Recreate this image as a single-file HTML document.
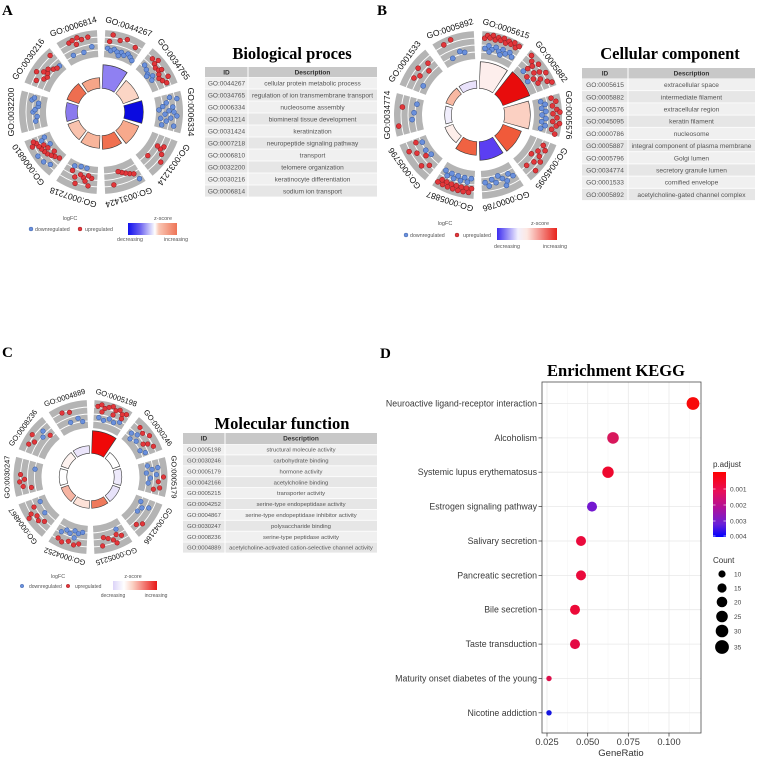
<!DOCTYPE html>
<html><head><meta charset="utf-8"><style>
html,body{margin:0;padding:0;background:#fff;}
svg{display:block;}
text{font-family:"Liberation Sans",Arial,sans-serif;}
.ser{font-family:"Liberation Serif","Times New Roman",serif;font-weight:bold;fill:#000;}
.u circle{fill:#e2363a;stroke:#8e1a1e;stroke-width:.5}
.d circle{fill:#6a90dc;stroke:#35589e;stroke-width:.5}
.gl{fill:#111;text-anchor:middle}
.th{font-size:6.5px;font-weight:bold;fill:#333;text-anchor:middle}
.td{fill:#555;text-anchor:middle}
.lg{fill:#555}
.ax{font-size:8.8px;fill:#3a3a3a;text-anchor:end}
.xt{font-size:9.3px;fill:#3a3a3a;text-anchor:middle}
.ring{fill:none}
</style></head><body>
<svg width="763" height="761" viewBox="0 0 763 761" xmlns="http://www.w3.org/2000/svg">
<defs>
<linearGradient id="gA" x1="0" x2="1" y1="0" y2="0"><stop offset="0" stop-color="#1010ee"/><stop offset="0.25" stop-color="#6c62f0"/><stop offset="0.55" stop-color="#ffffff"/><stop offset="0.63" stop-color="#f9c6b4"/><stop offset="1" stop-color="#ee7456"/></linearGradient>
<linearGradient id="gB" x1="0" x2="1" y1="0" y2="0"><stop offset="0" stop-color="#3c2cf0"/><stop offset="0.35" stop-color="#f2f0fd"/><stop offset="0.5" stop-color="#fde8e2"/><stop offset="1" stop-color="#e8231c"/></linearGradient>
<linearGradient id="gC" x1="0" x2="1" y1="0" y2="0"><stop offset="0" stop-color="#dcd4f8"/><stop offset="0.25" stop-color="#ffffff"/><stop offset="0.45" stop-color="#fbd0c2"/><stop offset="1" stop-color="#e81818"/></linearGradient>
<linearGradient id="gP" x1="0" x2="0" y1="0" y2="1"><stop offset="0" stop-color="#ff0000"/><stop offset="0.3" stop-color="#e8105a"/><stop offset="0.55" stop-color="#b0109a"/><stop offset="0.8" stop-color="#6a20d8"/><stop offset="1" stop-color="#0000ff"/></linearGradient>
</defs>
<rect width="763" height="761" fill="#fff"/>

<!-- Panel letters -->
<text class="ser" x="2" y="15" font-size="15">A</text>
<text class="ser" x="377" y="15" font-size="15">B</text>
<text class="ser" x="2" y="357" font-size="15">C</text>
<text class="ser" x="380" y="358" font-size="15">D</text>

<!-- ================= PANEL A CIRCLE ================= -->
<g transform="translate(101,112)">
<circle class="ring" r="68.5" stroke="#b4b4b4" stroke-width="27" stroke-dasharray="35.87 7.17" transform="rotate(-87)"/>
<circle class="ring" r="62" stroke="#fff" stroke-width=".9"/>
<circle class="ring" r="68.5" stroke="#fff" stroke-width=".9"/>
<circle class="ring" r="75" stroke="#fff" stroke-width=".9"/>
<!-- bars -->
<circle class="ring" r="35.5" stroke="#3a3a3a" stroke-width="24.2" stroke-dasharray="19.79 1000" transform="rotate(-87.97)"/>
<circle class="ring" r="35.5" stroke="#8f80f2" stroke-width="23" stroke-dasharray="18.59 1000" transform="rotate(-87)"/>
<circle class="ring" r="32" stroke="#3a3a3a" stroke-width="17.2" stroke-dasharray="17.96 1000" transform="rotate(-52.07)"/>
<circle class="ring" r="32" stroke="#fbd5c5" stroke-width="16" stroke-dasharray="16.76 1000" transform="rotate(-51)"/>
<circle class="ring" r="33" stroke="#3a3a3a" stroke-width="19.2" stroke-dasharray="18.48 1000" transform="rotate(-16.04)"/>
<circle class="ring" r="33" stroke="#0a0ae0" stroke-width="18" stroke-dasharray="17.28 1000" transform="rotate(-15)"/>
<circle class="ring" r="32" stroke="#3a3a3a" stroke-width="17.2" stroke-dasharray="17.96 1000" transform="rotate(19.93)"/>
<circle class="ring" r="32" stroke="#f7a98c" stroke-width="16" stroke-dasharray="16.76 1000" transform="rotate(21)"/>
<circle class="ring" r="30.5" stroke="#3a3a3a" stroke-width="14.2" stroke-dasharray="17.17 1000" transform="rotate(55.87)"/>
<circle class="ring" r="30.5" stroke="#f07050" stroke-width="13" stroke-dasharray="15.97 1000" transform="rotate(57)"/>
<circle class="ring" r="30" stroke="#3a3a3a" stroke-width="13.2" stroke-dasharray="16.91 1000" transform="rotate(91.85)"/>
<circle class="ring" r="30" stroke="#f8b59b" stroke-width="12" stroke-dasharray="15.71 1000" transform="rotate(93)"/>
<circle class="ring" r="29.5" stroke="#3a3a3a" stroke-width="12.2" stroke-dasharray="16.65 1000" transform="rotate(127.83)"/>
<circle class="ring" r="29.5" stroke="#f9c3ae" stroke-width="11" stroke-dasharray="15.45 1000" transform="rotate(129)"/>
<circle class="ring" r="29.5" stroke="#3a3a3a" stroke-width="12.2" stroke-dasharray="16.65 1000" transform="rotate(163.83)"/>
<circle class="ring" r="29.5" stroke="#8a7aee" stroke-width="11" stroke-dasharray="15.45 1000" transform="rotate(165)"/>
<circle class="ring" r="30" stroke="#3a3a3a" stroke-width="13.2" stroke-dasharray="16.91 1000" transform="rotate(199.85)"/>
<circle class="ring" r="30" stroke="#ee6e50" stroke-width="12" stroke-dasharray="15.71 1000" transform="rotate(201)"/>
<circle class="ring" r="29" stroke="#3a3a3a" stroke-width="11.2" stroke-dasharray="16.38 1000" transform="rotate(235.81)"/>
<circle class="ring" r="29" stroke="#f6a588" stroke-width="10" stroke-dasharray="15.18 1000" transform="rotate(237)"/>
<!-- dots -->
<g class="d">
<circle r="2.4" transform="rotate(6)" cy="-64"/><circle r="2.4" transform="rotate(9)" cy="-62"/><circle r="2.4" transform="rotate(12)" cy="-64"/><circle r="2.4" transform="rotate(15)" cy="-62"/><circle r="2.4" transform="rotate(19)" cy="-63"/><circle r="2.4" transform="rotate(22)" cy="-61"/><circle r="2.4" transform="rotate(25)" cy="-64"/><circle r="2.4" transform="rotate(28)" cy="-62"/><circle r="2.4" transform="rotate(31)" cy="-60"/><circle r="2.4" transform="rotate(17)" cy="-59"/>
<circle r="2.4" transform="rotate(43)" cy="-64"/><circle r="2.4" transform="rotate(47)" cy="-62"/><circle r="2.4" transform="rotate(51)" cy="-60"/><circle r="2.4" transform="rotate(55)" cy="-63"/><circle r="2.4" transform="rotate(58)" cy="-60"/><circle r="2.4" transform="rotate(52)" cy="-58"/>
<circle r="2.4" transform="rotate(78)" cy="-70"/><circle r="2.4" transform="rotate(82)" cy="-66"/><circle r="2.4" transform="rotate(86)" cy="-72"/><circle r="2.4" transform="rotate(89)" cy="-68"/><circle r="2.4" transform="rotate(92)" cy="-64"/><circle r="2.4" transform="rotate(95)" cy="-70"/><circle r="2.4" transform="rotate(98)" cy="-66"/><circle r="2.4" transform="rotate(85)" cy="-62"/><circle r="2.4" transform="rotate(101)" cy="-74"/><circle r="2.4" transform="rotate(80)" cy="-77"/><circle r="2.4" transform="rotate(93)" cy="-76"/><circle r="2.4" transform="rotate(102)" cy="-62"/><circle r="2.4" transform="rotate(88)" cy="-58"/><circle r="2.4" transform="rotate(96)" cy="-60"/><circle r="2.4" transform="rotate(90)" cy="-73"/>
<circle r="2.4" transform="rotate(150)" cy="-77"/>
<circle r="2.4" transform="rotate(200)" cy="-58"/><circle r="2.4" transform="rotate(206)" cy="-60"/><circle r="2.4" transform="rotate(194)" cy="-58"/>
<circle r="2.4" transform="rotate(224)" cy="-73"/><circle r="2.4" transform="rotate(229)" cy="-76"/><circle r="2.4" transform="rotate(235)" cy="-77"/><circle r="2.4" transform="rotate(246)" cy="-62"/><circle r="2.4" transform="rotate(244)" cy="-66"/><circle r="2.4" transform="rotate(238)" cy="-60"/>
<circle r="2.4" transform="rotate(262)" cy="-66"/><circle r="2.4" transform="rotate(266)" cy="-64"/><circle r="2.4" transform="rotate(270)" cy="-68"/><circle r="2.4" transform="rotate(272)" cy="-66"/><circle r="2.4" transform="rotate(275)" cy="-63"/><circle r="2.4" transform="rotate(280)" cy="-70"/><circle r="2.4" transform="rotate(282)" cy="-68"/><circle r="2.4" transform="rotate(278)" cy="-63"/>
<circle r="2.4" transform="rotate(318)" cy="-62"/>
<circle r="2.4" transform="rotate(334)" cy="-63"/><circle r="2.4" transform="rotate(344)" cy="-62"/><circle r="2.4" transform="rotate(352)" cy="-66"/>
</g>
<g class="u">
<circle r="2.4" transform="rotate(9)" cy="-78"/><circle r="2.4" transform="rotate(20)" cy="-77"/><circle r="2.4" transform="rotate(28)" cy="-73"/><circle r="2.4" transform="rotate(7)" cy="-71"/><circle r="2.4" transform="rotate(15)" cy="-74"/>
<circle r="2.4" transform="rotate(44)" cy="-74"/><circle r="2.4" transform="rotate(48)" cy="-72"/><circle r="2.4" transform="rotate(51)" cy="-70"/><circle r="2.4" transform="rotate(54)" cy="-71"/><circle r="2.4" transform="rotate(57)" cy="-69"/><circle r="2.4" transform="rotate(60)" cy="-67"/><circle r="2.4" transform="rotate(63)" cy="-69"/><circle r="2.4" transform="rotate(66)" cy="-72"/><circle r="2.4" transform="rotate(48)" cy="-77"/><circle r="2.4" transform="rotate(62)" cy="-76"/><circle r="2.4" transform="rotate(55)" cy="-74"/>
<circle r="2.4" transform="rotate(119)" cy="-72"/><circle r="2.4" transform="rotate(122)" cy="-70"/><circle r="2.4" transform="rotate(125)" cy="-74"/><circle r="2.4" transform="rotate(121)" cy="-66"/><circle r="2.4" transform="rotate(133)" cy="-64"/><circle r="2.4" transform="rotate(130)" cy="-78"/>
<circle r="2.4" transform="rotate(155)" cy="-68"/><circle r="2.4" transform="rotate(158)" cy="-66"/><circle r="2.4" transform="rotate(161)" cy="-64"/><circle r="2.4" transform="rotate(164)" cy="-62"/><circle r="2.4" transform="rotate(152)" cy="-70"/><circle r="2.4" transform="rotate(170)" cy="-74"/>
<circle r="2.4" transform="rotate(188)" cy="-67"/><circle r="2.4" transform="rotate(191)" cy="-65"/><circle r="2.4" transform="rotate(195)" cy="-68"/><circle r="2.4" transform="rotate(198)" cy="-66"/><circle r="2.4" transform="rotate(202)" cy="-70"/><circle r="2.4" transform="rotate(206)" cy="-65"/><circle r="2.4" transform="rotate(190)" cy="-75"/><circle r="2.4" transform="rotate(200)" cy="-76"/><circle r="2.4" transform="rotate(193)" cy="-71"/>
<circle r="2.4" transform="rotate(222)" cy="-62"/><circle r="2.4" transform="rotate(226)" cy="-64"/><circle r="2.4" transform="rotate(229)" cy="-66"/><circle r="2.4" transform="rotate(232)" cy="-68"/><circle r="2.4" transform="rotate(235)" cy="-69"/><circle r="2.4" transform="rotate(238)" cy="-70"/><circle r="2.4" transform="rotate(241)" cy="-71"/><circle r="2.4" transform="rotate(244)" cy="-72"/><circle r="2.4" transform="rotate(246)" cy="-74"/><circle r="2.4" transform="rotate(230)" cy="-61"/><circle r="2.4" transform="rotate(236)" cy="-64"/><circle r="2.4" transform="rotate(240)" cy="-66"/><circle r="2.4" transform="rotate(243)" cy="-77"/>
<circle r="2.4" transform="rotate(300)" cy="-66"/><circle r="2.4" transform="rotate(303)" cy="-64"/><circle r="2.4" transform="rotate(306)" cy="-66"/><circle r="2.4" transform="rotate(309)" cy="-68"/><circle r="2.4" transform="rotate(312)" cy="-64"/><circle r="2.4" transform="rotate(315)" cy="-62"/><circle r="2.4" transform="rotate(296)" cy="-72"/><circle r="2.4" transform="rotate(318)" cy="-76"/><circle r="2.4" transform="rotate(302)" cy="-76"/><circle r="2.4" transform="rotate(305)" cy="-70"/>
<circle r="2.4" transform="rotate(335)" cy="-76"/><circle r="2.4" transform="rotate(338)" cy="-77"/><circle r="2.4" transform="rotate(342)" cy="-78"/><circle r="2.4" transform="rotate(345)" cy="-75"/><circle r="2.4" transform="rotate(350)" cy="-76"/><circle r="2.4" transform="rotate(340)" cy="-72"/>
</g>
<!-- labels -->
<g class="gl" font-size="8.5">
<text transform="rotate(18)" y="-87">GO:0044267</text>
<text transform="rotate(54)" y="-87">GO:0034765</text>
<text transform="rotate(90)" y="-87">GO:0006334</text>
<text transform="rotate(126)" y="-87">GO:0031214</text>
<text transform="rotate(162)" y="-87">GO:0031424</text>
<text transform="rotate(198)" y="-87">GO:0007218</text>
<text transform="rotate(234)" y="-87">GO:0006810</text>
<text transform="rotate(270)" y="-87">GO:0032200</text>
<text transform="rotate(306)" y="-87">GO:0030216</text>
<text transform="rotate(342)" y="-87">GO:0006814</text>
</g>
</g>
<!-- A legend -->
<text class="lg" x="70" y="220" font-size="5.5" text-anchor="middle">logFC</text>
<text class="lg" x="163" y="220" font-size="5.5" text-anchor="middle">z-score</text>
<circle cx="31" cy="229" r="2" fill="#6a90dc" stroke="#35589e" stroke-width=".4"/>
<text class="lg" x="35" y="231" font-size="5.3">downregulated</text>
<circle cx="80" cy="229" r="2" fill="#e2363a" stroke="#8e1a1e" stroke-width=".4"/>
<text class="lg" x="85" y="231" font-size="5.3">upregulated</text>
<rect x="128" y="223" width="49" height="12" fill="url(#gA)"/>
<text class="lg" x="130" y="241" font-size="5.3" text-anchor="middle">decreasing</text>
<text class="lg" x="176" y="241" font-size="5.3" text-anchor="middle">increasing</text>

<!-- A table -->
<text class="ser" x="292" y="59" font-size="16.5" text-anchor="middle">Biological proces</text>
<rect x="205" y="67" width="172" height="10" fill="#c8c8c8"/>
<text class="th" x="226.5" y="74.3">ID</text><text class="th" x="312.5" y="74.3">Description</text>
<g>
<rect x="205" y="77.4" width="172" height="11.2" fill="#f0f0f0"/>
<rect x="205" y="89.4" width="172" height="11.2" fill="#e6e6e6"/>
<rect x="205" y="101.4" width="172" height="11.2" fill="#f0f0f0"/>
<rect x="205" y="113.4" width="172" height="11.2" fill="#e6e6e6"/>
<rect x="205" y="125.4" width="172" height="11.2" fill="#f0f0f0"/>
<rect x="205" y="137.4" width="172" height="11.2" fill="#e6e6e6"/>
<rect x="205" y="149.4" width="172" height="11.2" fill="#f0f0f0"/>
<rect x="205" y="161.4" width="172" height="11.2" fill="#e6e6e6"/>
<rect x="205" y="173.4" width="172" height="11.2" fill="#f0f0f0"/>
<rect x="205" y="185.4" width="172" height="11.2" fill="#e6e6e6"/>
<line x1="248" y1="67" x2="248" y2="197" stroke="#fff" stroke-width="1"/>
</g>
<g class="td" font-size="6.5">
<text x="226.5" y="85.3">GO:0044267</text><text x="312.5" y="85.3">cellular protein metabolic process</text>
<text x="226.5" y="97.3">GO:0034765</text><text x="312.5" y="97.3">regulation of ion transmembrane transport</text>
<text x="226.5" y="109.3">GO:0006334</text><text x="312.5" y="109.3">nucleosome assembly</text>
<text x="226.5" y="121.3">GO:0031214</text><text x="312.5" y="121.3">biomineral tissue development</text>
<text x="226.5" y="133.3">GO:0031424</text><text x="312.5" y="133.3">keratinization</text>
<text x="226.5" y="145.3">GO:0007218</text><text x="312.5" y="145.3">neuropeptide signaling pathway</text>
<text x="226.5" y="157.3">GO:0006810</text><text x="312.5" y="157.3">transport</text>
<text x="226.5" y="169.3">GO:0032200</text><text x="312.5" y="169.3">telomere organization</text>
<text x="226.5" y="181.3">GO:0030216</text><text x="312.5" y="181.3">keratinocyte differentiation</text>
<text x="226.5" y="193.3">GO:0006814</text><text x="312.5" y="193.3">sodium ion transport</text>
</g>

<!-- ================= PANEL B CIRCLE ================= -->
<g transform="translate(478,115)">
<circle class="ring" r="70" stroke="#b4b4b4" stroke-width="28" stroke-dasharray="36.65 7.33" transform="rotate(-87)"/>
<circle class="ring" r="63" stroke="#fff" stroke-width=".9"/>
<circle class="ring" r="70" stroke="#fff" stroke-width=".9"/>
<circle class="ring" r="77" stroke="#fff" stroke-width=".9"/>
<!-- bars -->
<circle class="ring" r="40" stroke="#3a3a3a" stroke-width="27.2" stroke-dasharray="22.14 1000" transform="rotate(-87.86)"/>
<circle class="ring" r="40" stroke="#fdeeec" stroke-width="26" stroke-dasharray="20.94 1000" transform="rotate(-87)"/>
<circle class="ring" r="41" stroke="#3a3a3a" stroke-width="29.2" stroke-dasharray="22.67 1000" transform="rotate(-51.84)"/>
<circle class="ring" r="41" stroke="#e80c0c" stroke-width="28" stroke-dasharray="21.47 1000" transform="rotate(-51)"/>
<circle class="ring" r="39.5" stroke="#3a3a3a" stroke-width="26.2" stroke-dasharray="21.88 1000" transform="rotate(-15.87)"/>
<circle class="ring" r="39.5" stroke="#fbd0c2" stroke-width="25" stroke-dasharray="20.68 1000" transform="rotate(-15)"/>
<circle class="ring" r="36.5" stroke="#3a3a3a" stroke-width="20.2" stroke-dasharray="20.31 1000" transform="rotate(20.06)"/>
<circle class="ring" r="36.5" stroke="#f05a3a" stroke-width="19" stroke-dasharray="19.11 1000" transform="rotate(21)"/>
<circle class="ring" r="36" stroke="#3a3a3a" stroke-width="19.2" stroke-dasharray="20.05 1000" transform="rotate(56.05)"/>
<circle class="ring" r="36" stroke="#5b3ef2" stroke-width="18" stroke-dasharray="18.85 1000" transform="rotate(57)"/>
<circle class="ring" r="33.5" stroke="#3a3a3a" stroke-width="14.2" stroke-dasharray="18.74 1000" transform="rotate(91.97)"/>
<circle class="ring" r="33.5" stroke="#f06242" stroke-width="13" stroke-dasharray="17.54 1000" transform="rotate(93)"/>
<circle class="ring" r="31" stroke="#3a3a3a" stroke-width="9.2" stroke-dasharray="17.43 1000" transform="rotate(127.89)"/>
<circle class="ring" r="31" stroke="#fdeeea" stroke-width="8" stroke-dasharray="16.23 1000" transform="rotate(129)"/>
<circle class="ring" r="30" stroke="#3a3a3a" stroke-width="7.2" stroke-dasharray="16.91 1000" transform="rotate(163.85)"/>
<circle class="ring" r="30" stroke="#f1eefc" stroke-width="6" stroke-dasharray="15.71 1000" transform="rotate(165)"/>
<circle class="ring" r="30.5" stroke="#3a3a3a" stroke-width="8.2" stroke-dasharray="17.17 1000" transform="rotate(199.87)"/>
<circle class="ring" r="30.5" stroke="#f8b8a2" stroke-width="7" stroke-dasharray="15.97 1000" transform="rotate(201)"/>
<circle class="ring" r="30.5" stroke="#3a3a3a" stroke-width="8.2" stroke-dasharray="17.17 1000" transform="rotate(235.87)"/>
<circle class="ring" r="30.5" stroke="#e9e2fb" stroke-width="7" stroke-dasharray="15.97 1000" transform="rotate(237)"/>
<!-- dots -->
<g class="d">
<circle r="2.5" transform="rotate(6)" cy="-67"/><circle r="2.5" transform="rotate(9)" cy="-70"/><circle r="2.5" transform="rotate(12)" cy="-67"/><circle r="2.5" transform="rotate(15)" cy="-70"/><circle r="2.5" transform="rotate(18)" cy="-67"/><circle r="2.5" transform="rotate(21)" cy="-70"/><circle r="2.5" transform="rotate(24)" cy="-67"/><circle r="2.5" transform="rotate(27)" cy="-70"/><circle r="2.5" transform="rotate(30)" cy="-67"/><circle r="2.5" transform="rotate(10)" cy="-64"/><circle r="2.5" transform="rotate(20)" cy="-64"/>
<circle r="2.5" transform="rotate(46)" cy="-63"/><circle r="2.5" transform="rotate(56)" cy="-60"/>
<circle r="2.5" transform="rotate(78)" cy="-64"/><circle r="2.5" transform="rotate(81)" cy="-68"/><circle r="2.5" transform="rotate(84)" cy="-64"/><circle r="2.5" transform="rotate(87)" cy="-68"/><circle r="2.5" transform="rotate(90)" cy="-64"/><circle r="2.5" transform="rotate(93)" cy="-68"/><circle r="2.5" transform="rotate(96)" cy="-64"/><circle r="2.5" transform="rotate(99)" cy="-68"/><circle r="2.5" transform="rotate(102)" cy="-64"/>
<circle r="2.5" transform="rotate(150)" cy="-70"/><circle r="2.5" transform="rotate(153)" cy="-66"/><circle r="2.5" transform="rotate(156)" cy="-72"/><circle r="2.5" transform="rotate(159)" cy="-68"/><circle r="2.5" transform="rotate(162)" cy="-64"/><circle r="2.5" transform="rotate(165)" cy="-70"/><circle r="2.5" transform="rotate(168)" cy="-66"/><circle r="2.5" transform="rotate(171)" cy="-72"/><circle r="2.5" transform="rotate(174)" cy="-68"/><circle r="2.5" transform="rotate(158)" cy="-76"/>
<circle r="2.5" transform="rotate(186)" cy="-64"/><circle r="2.5" transform="rotate(189)" cy="-68"/><circle r="2.5" transform="rotate(192)" cy="-64"/><circle r="2.5" transform="rotate(195)" cy="-68"/><circle r="2.5" transform="rotate(198)" cy="-64"/><circle r="2.5" transform="rotate(201)" cy="-68"/><circle r="2.5" transform="rotate(204)" cy="-64"/><circle r="2.5" transform="rotate(207)" cy="-68"/><circle r="2.5" transform="rotate(210)" cy="-64"/>
<circle r="2.5" transform="rotate(230)" cy="-61"/><circle r="2.5" transform="rotate(236)" cy="-63"/><circle r="2.5" transform="rotate(244)" cy="-62"/>
<circle r="2.5" transform="rotate(266)" cy="-66"/><circle r="2.5" transform="rotate(272)" cy="-64"/><circle r="2.5" transform="rotate(280)" cy="-62"/>
<circle r="2.5" transform="rotate(298)" cy="-62"/>
<circle r="2.5" transform="rotate(344)" cy="-66"/><circle r="2.5" transform="rotate(348)" cy="-64"/><circle r="2.5" transform="rotate(336)" cy="-62"/>
</g>
<g class="u">
<circle r="2.5" transform="rotate(5)" cy="-77"/><circle r="2.5" transform="rotate(7)" cy="-80"/><circle r="2.5" transform="rotate(9)" cy="-78"/><circle r="2.5" transform="rotate(11)" cy="-81"/><circle r="2.5" transform="rotate(13)" cy="-77"/><circle r="2.5" transform="rotate(15)" cy="-80"/><circle r="2.5" transform="rotate(17)" cy="-78"/><circle r="2.5" transform="rotate(19)" cy="-81"/><circle r="2.5" transform="rotate(21)" cy="-77"/><circle r="2.5" transform="rotate(23)" cy="-80"/><circle r="2.5" transform="rotate(25)" cy="-78"/><circle r="2.5" transform="rotate(27)" cy="-81"/><circle r="2.5" transform="rotate(29)" cy="-77"/><circle r="2.5" transform="rotate(31)" cy="-80"/>
<circle r="2.5" transform="rotate(42)" cy="-80"/><circle r="2.5" transform="rotate(45)" cy="-76"/><circle r="2.5" transform="rotate(48)" cy="-73"/><circle r="2.5" transform="rotate(50)" cy="-79"/><circle r="2.5" transform="rotate(53)" cy="-70"/><circle r="2.5" transform="rotate(55)" cy="-75"/><circle r="2.5" transform="rotate(58)" cy="-80"/><circle r="2.5" transform="rotate(60)" cy="-72"/><circle r="2.5" transform="rotate(62)" cy="-68"/><circle r="2.5" transform="rotate(64)" cy="-77"/><circle r="2.5" transform="rotate(66)" cy="-81"/><circle r="2.5" transform="rotate(47)" cy="-68"/><circle r="2.5" transform="rotate(57)" cy="-66"/><circle r="2.5" transform="rotate(52)" cy="-62"/>
<circle r="2.5" transform="rotate(77)" cy="-75"/><circle r="2.5" transform="rotate(80)" cy="-79"/><circle r="2.5" transform="rotate(83)" cy="-75"/><circle r="2.5" transform="rotate(86)" cy="-79"/><circle r="2.5" transform="rotate(89)" cy="-75"/><circle r="2.5" transform="rotate(92)" cy="-79"/><circle r="2.5" transform="rotate(95)" cy="-75"/><circle r="2.5" transform="rotate(98)" cy="-79"/><circle r="2.5" transform="rotate(101)" cy="-75"/><circle r="2.5" transform="rotate(104)" cy="-79"/><circle r="2.5" transform="rotate(88)" cy="-82"/><circle r="2.5" transform="rotate(96)" cy="-82"/>
<circle r="2.5" transform="rotate(115)" cy="-72"/><circle r="2.5" transform="rotate(118)" cy="-76"/><circle r="2.5" transform="rotate(121)" cy="-70"/><circle r="2.5" transform="rotate(124)" cy="-74"/><circle r="2.5" transform="rotate(127)" cy="-78"/><circle r="2.5" transform="rotate(130)" cy="-73"/><circle r="2.5" transform="rotate(126)" cy="-66"/><circle r="2.5" transform="rotate(134)" cy="-80"/><circle r="2.5" transform="rotate(136)" cy="-70"/>
<circle r="2.5" transform="rotate(185)" cy="-74"/><circle r="2.5" transform="rotate(187)" cy="-78"/><circle r="2.5" transform="rotate(189)" cy="-74"/><circle r="2.5" transform="rotate(191)" cy="-78"/><circle r="2.5" transform="rotate(193)" cy="-74"/><circle r="2.5" transform="rotate(195)" cy="-78"/><circle r="2.5" transform="rotate(197)" cy="-74"/><circle r="2.5" transform="rotate(199)" cy="-78"/><circle r="2.5" transform="rotate(201)" cy="-74"/><circle r="2.5" transform="rotate(203)" cy="-78"/><circle r="2.5" transform="rotate(205)" cy="-74"/><circle r="2.5" transform="rotate(207)" cy="-78"/><circle r="2.5" transform="rotate(209)" cy="-74"/><circle r="2.5" transform="rotate(211)" cy="-78"/>
<circle r="2.5" transform="rotate(224)" cy="-70"/><circle r="2.5" transform="rotate(228)" cy="-76"/><circle r="2.5" transform="rotate(232)" cy="-66"/><circle r="2.5" transform="rotate(238)" cy="-72"/><circle r="2.5" transform="rotate(242)" cy="-78"/><circle r="2.5" transform="rotate(246)" cy="-68"/>
<circle r="2.5" transform="rotate(262)" cy="-80"/><circle r="2.5" transform="rotate(276)" cy="-76"/>
<circle r="2.5" transform="rotate(300)" cy="-74"/><circle r="2.5" transform="rotate(304)" cy="-70"/><circle r="2.5" transform="rotate(308)" cy="-76"/><circle r="2.5" transform="rotate(312)" cy="-66"/><circle r="2.5" transform="rotate(316)" cy="-72"/>
<circle r="2.5" transform="rotate(334)" cy="-78"/><circle r="2.5" transform="rotate(340)" cy="-80"/>
</g>
<g class="gl" font-size="8.5">
<text transform="rotate(18)" y="-88">GO:0005615</text>
<text transform="rotate(54)" y="-88">GO:0005882</text>
<text transform="rotate(90)" y="-88">GO:0005576</text>
<text transform="rotate(126)" y="-88">GO:0045095</text>
<text transform="rotate(162)" y="-88">GO:0000786</text>
<text transform="rotate(198)" y="-88">GO:0005887</text>
<text transform="rotate(234)" y="-88">GO:0005796</text>
<text transform="rotate(270)" y="-88">GO:0034774</text>
<text transform="rotate(306)" y="-88">GO:0001533</text>
<text transform="rotate(342)" y="-88">GO:0005892</text>
</g>
</g>
<!-- B legend -->
<text class="lg" x="445" y="225" font-size="5.5" text-anchor="middle">logFC</text>
<text class="lg" x="540" y="225" font-size="5.5" text-anchor="middle">z-score</text>
<circle cx="406" cy="235" r="2" fill="#6a90dc" stroke="#35589e" stroke-width=".4"/>
<text class="lg" x="410" y="237" font-size="5.3">downregulated</text>
<circle cx="457" cy="235" r="2" fill="#e2363a" stroke="#8e1a1e" stroke-width=".4"/>
<text class="lg" x="463" y="237" font-size="5.3">upregulated</text>
<rect x="497" y="228" width="60" height="12" fill="url(#gB)"/>
<text class="lg" x="507" y="248" font-size="5.3" text-anchor="middle">decreasing</text>
<text class="lg" x="555" y="248" font-size="5.3" text-anchor="middle">increasing</text>

<!-- B table -->
<text class="ser" x="670" y="59" font-size="16.5" text-anchor="middle">Cellular component</text>
<rect x="582" y="68" width="173" height="10.5" fill="#c8c8c8"/>
<text class="th" x="605" y="75.5">ID</text><text class="th" x="691.5" y="75.5">Description</text>
<g>
<rect x="582" y="78.9" width="173" height="11.4" fill="#f0f0f0"/>
<rect x="582" y="91.1" width="173" height="11.4" fill="#e6e6e6"/>
<rect x="582" y="103.3" width="173" height="11.4" fill="#f0f0f0"/>
<rect x="582" y="115.5" width="173" height="11.4" fill="#e6e6e6"/>
<rect x="582" y="127.7" width="173" height="11.4" fill="#f0f0f0"/>
<rect x="582" y="139.9" width="173" height="11.4" fill="#e6e6e6"/>
<rect x="582" y="152.1" width="173" height="11.4" fill="#f0f0f0"/>
<rect x="582" y="164.3" width="173" height="11.4" fill="#e6e6e6"/>
<rect x="582" y="176.5" width="173" height="11.4" fill="#f0f0f0"/>
<rect x="582" y="188.7" width="173" height="11.4" fill="#e6e6e6"/>
<line x1="628" y1="68" x2="628" y2="200" stroke="#fff" stroke-width="1"/>
</g>
<g class="td" font-size="6.6">
<text x="605" y="87.1">GO:0005615</text><text x="691.5" y="87.1">extracellular space</text>
<text x="605" y="99.3">GO:0005882</text><text x="691.5" y="99.3">intermediate filament</text>
<text x="605" y="111.5">GO:0005576</text><text x="691.5" y="111.5">extracellular region</text>
<text x="605" y="123.7">GO:0045095</text><text x="691.5" y="123.7">keratin filament</text>
<text x="605" y="135.9">GO:0000786</text><text x="691.5" y="135.9">nucleosome</text>
<text x="605" y="148.1">GO:0005887</text><text x="691.5" y="148.1">integral component of plasma membrane</text>
<text x="605" y="160.3">GO:0005796</text><text x="691.5" y="160.3">Golgi lumen</text>
<text x="605" y="172.5">GO:0034774</text><text x="691.5" y="172.5">secretory granule lumen</text>
<text x="605" y="184.7">GO:0001533</text><text x="691.5" y="184.7">cornified envelope</text>
<text x="605" y="196.9">GO:0005892</text><text x="691.5" y="196.9">acetylcholine-gated channel complex</text>
</g>

<!-- ================= PANEL C CIRCLE ================= -->
<g transform="translate(90.5,477)">
<circle class="ring" r="63" stroke="#b4b4b4" stroke-width="28" stroke-dasharray="32.99 6.60" transform="rotate(-87)"/>
<circle class="ring" r="56" stroke="#fff" stroke-width=".9"/>
<circle class="ring" r="63" stroke="#fff" stroke-width=".9"/>
<circle class="ring" r="70" stroke="#fff" stroke-width=".9"/>
<!-- bars -->
<circle class="ring" r="35" stroke="#3a3a3a" stroke-width="23.2" stroke-dasharray="19.53 1000" transform="rotate(-87.98)"/>
<circle class="ring" r="35" stroke="#f00808" stroke-width="22" stroke-dasharray="18.33 1000" transform="rotate(-87)"/>
<g stroke="#3a3a3a" stroke-width="8.2" fill="none">
<circle r="27.5" stroke-dasharray="15.6 1000" transform="rotate(-52.25)"/>
<circle r="27.5" stroke-dasharray="15.6 1000" transform="rotate(-16.25)"/>
<circle r="27.5" stroke-dasharray="15.6 1000" transform="rotate(19.75)"/>
<circle r="27.5" stroke-dasharray="15.6 1000" transform="rotate(55.75)"/>
<circle r="27.5" stroke-dasharray="15.6 1000" transform="rotate(91.75)"/>
<circle r="27.5" stroke-dasharray="15.6 1000" transform="rotate(127.75)"/>
<circle r="27.5" stroke-dasharray="15.6 1000" transform="rotate(163.75)"/>
<circle r="27.5" stroke-dasharray="15.6 1000" transform="rotate(199.75)"/>
<circle r="27.5" stroke-dasharray="15.6 1000" transform="rotate(235.75)"/>
</g>
<g stroke-width="7" fill="none">
<circle r="27.5" stroke="#ffffff" stroke-dasharray="14.4 1000" transform="rotate(-51)"/>
<circle r="27.5" stroke="#eeeafb" stroke-dasharray="14.4 1000" transform="rotate(-15)"/>
<circle r="27.5" stroke="#e8e3fa" stroke-dasharray="14.4 1000" transform="rotate(21)"/>
<circle r="27.5" stroke="#ef7a5c" stroke-dasharray="14.4 1000" transform="rotate(57)"/>
<circle r="27.5" stroke="#fde2d8" stroke-dasharray="14.4 1000" transform="rotate(93)"/>
<circle r="27.5" stroke="#f6b4a2" stroke-dasharray="14.4 1000" transform="rotate(129)"/>
<circle r="27.5" stroke="#ffffff" stroke-dasharray="14.4 1000" transform="rotate(165)"/>
<circle r="27.5" stroke="#fef3f0" stroke-dasharray="14.4 1000" transform="rotate(201)"/>
<circle r="27.5" stroke="#ebe5fb" stroke-dasharray="14.4 1000" transform="rotate(237)"/>
</g>
<!-- dots -->
<g class="d">
<circle r="2.3" transform="rotate(8)" cy="-60"/><circle r="2.3" transform="rotate(13)" cy="-58"/><circle r="2.3" transform="rotate(18)" cy="-61"/><circle r="2.3" transform="rotate(23)" cy="-59"/><circle r="2.3" transform="rotate(28)" cy="-62"/>
<circle r="2.3" transform="rotate(43)" cy="-60"/><circle r="2.3" transform="rotate(48)" cy="-63"/><circle r="2.3" transform="rotate(52)" cy="-58"/><circle r="2.3" transform="rotate(62)" cy="-56"/><circle r="2.3" transform="rotate(66)" cy="-60"/><circle r="2.3" transform="rotate(46)" cy="-55"/>
<circle r="2.3" transform="rotate(79)" cy="-58"/><circle r="2.3" transform="rotate(83)" cy="-62"/><circle r="2.3" transform="rotate(86)" cy="-56"/><circle r="2.3" transform="rotate(91)" cy="-60"/><circle r="2.3" transform="rotate(96)" cy="-58"/><circle r="2.3" transform="rotate(82)" cy="-68"/><circle r="2.3" transform="rotate(88)" cy="-66"/>
<circle r="2.3" transform="rotate(116)" cy="-56"/><circle r="2.3" transform="rotate(121)" cy="-60"/><circle r="2.3" transform="rotate(126)" cy="-58"/><circle r="2.3" transform="rotate(118)" cy="-66"/>
<circle r="2.3" transform="rotate(154)" cy="-58"/>
<circle r="2.3" transform="rotate(188)" cy="-56"/><circle r="2.3" transform="rotate(192)" cy="-58"/><circle r="2.3" transform="rotate(196)" cy="-56"/><circle r="2.3" transform="rotate(200)" cy="-60"/><circle r="2.3" transform="rotate(204)" cy="-58"/><circle r="2.3" transform="rotate(195)" cy="-63"/><circle r="2.3" transform="rotate(208)" cy="-62"/>
<circle r="2.3" transform="rotate(232)" cy="-58"/><circle r="2.3" transform="rotate(244)" cy="-56"/>
<circle r="2.3" transform="rotate(278)" cy="-56"/>
<circle r="2.3" transform="rotate(310)" cy="-62"/><circle r="2.3" transform="rotate(314)" cy="-66"/>
<circle r="2.3" transform="rotate(340)" cy="-58"/><circle r="2.3" transform="rotate(348)" cy="-60"/><circle r="2.3" transform="rotate(352)" cy="-56"/>
</g>
<g class="u">
<circle r="2.3" transform="rotate(6)" cy="-71"/><circle r="2.3" transform="rotate(9)" cy="-73"/><circle r="2.3" transform="rotate(12)" cy="-70"/><circle r="2.3" transform="rotate(15)" cy="-72"/><circle r="2.3" transform="rotate(18)" cy="-74"/><circle r="2.3" transform="rotate(21)" cy="-71"/><circle r="2.3" transform="rotate(24)" cy="-73"/><circle r="2.3" transform="rotate(27)" cy="-70"/><circle r="2.3" transform="rotate(30)" cy="-72"/><circle r="2.3" transform="rotate(10)" cy="-66"/><circle r="2.3" transform="rotate(20)" cy="-66"/><circle r="2.3" transform="rotate(28)" cy="-66"/>
<circle r="2.3" transform="rotate(45)" cy="-70"/><circle r="2.3" transform="rotate(50)" cy="-68"/><circle r="2.3" transform="rotate(55)" cy="-72"/><circle r="2.3" transform="rotate(60)" cy="-66"/><circle r="2.3" transform="rotate(64)" cy="-70"/><circle r="2.3" transform="rotate(58)" cy="-62"/>
<circle r="2.3" transform="rotate(94)" cy="-68"/><circle r="2.3" transform="rotate(99)" cy="-70"/><circle r="2.3" transform="rotate(101)" cy="-64"/><circle r="2.3" transform="rotate(90)" cy="-73"/>
<circle r="2.3" transform="rotate(132)" cy="-70"/><circle r="2.3" transform="rotate(136)" cy="-66"/>
<circle r="2.3" transform="rotate(152)" cy="-66"/><circle r="2.3" transform="rotate(156)" cy="-63"/><circle r="2.3" transform="rotate(160)" cy="-67"/><circle r="2.3" transform="rotate(164)" cy="-64"/><circle r="2.3" transform="rotate(168)" cy="-62"/><circle r="2.3" transform="rotate(158)" cy="-71"/><circle r="2.3" transform="rotate(170)" cy="-70"/>
<circle r="2.3" transform="rotate(190)" cy="-68"/><circle r="2.3" transform="rotate(194)" cy="-70"/><circle r="2.3" transform="rotate(199)" cy="-68"/><circle r="2.3" transform="rotate(204)" cy="-71"/><circle r="2.3" transform="rotate(208)" cy="-69"/>
<circle r="2.3" transform="rotate(226)" cy="-64"/><circle r="2.3" transform="rotate(230)" cy="-68"/><circle r="2.3" transform="rotate(234)" cy="-66"/><circle r="2.3" transform="rotate(238)" cy="-70"/><circle r="2.3" transform="rotate(242)" cy="-64"/><circle r="2.3" transform="rotate(236)" cy="-74"/>
<circle r="2.3" transform="rotate(262)" cy="-68"/><circle r="2.3" transform="rotate(266)" cy="-71"/><circle r="2.3" transform="rotate(268)" cy="-66"/><circle r="2.3" transform="rotate(272)" cy="-70"/><circle r="2.3" transform="rotate(260)" cy="-60"/>
<circle r="2.3" transform="rotate(298)" cy="-70"/><circle r="2.3" transform="rotate(302)" cy="-66"/><circle r="2.3" transform="rotate(306)" cy="-72"/><circle r="2.3" transform="rotate(316)" cy="-58"/>
<circle r="2.3" transform="rotate(336)" cy="-70"/><circle r="2.3" transform="rotate(342)" cy="-68"/>
</g>
<g class="gl" font-size="7.5">
<text transform="rotate(18)" y="-81">GO:0005198</text>
<text transform="rotate(54)" y="-81">GO:0030246</text>
<text transform="rotate(90)" y="-81">GO:0005179</text>
<text transform="rotate(126)" y="-81">GO:0042166</text>
<text transform="rotate(162)" y="-81">GO:0005215</text>
<text transform="rotate(198)" y="-81">GO:0004252</text>
<text transform="rotate(234)" y="-81">GO:0004867</text>
<text transform="rotate(270)" y="-81">GO:0030247</text>
<text transform="rotate(306)" y="-81">GO:0008236</text>
<text transform="rotate(342)" y="-81">GO:0004889</text>
</g>
</g>
<!-- C legend -->
<text class="lg" x="58" y="578" font-size="5.3" text-anchor="middle">logFC</text>
<text class="lg" x="133" y="578" font-size="5.3" text-anchor="middle">z-score</text>
<circle cx="22" cy="586" r="1.8" fill="#6a90dc" stroke="#35589e" stroke-width=".4"/>
<text class="lg" x="29" y="588" font-size="5">downregulated</text>
<circle cx="68" cy="586" r="1.8" fill="#e2363a" stroke="#8e1a1e" stroke-width=".4"/>
<text class="lg" x="75" y="588" font-size="5">upregulated</text>
<rect x="113" y="581" width="44" height="9" fill="url(#gC)"/>
<text class="lg" x="113" y="597" font-size="5" text-anchor="middle">decreasing</text>
<text class="lg" x="156" y="597" font-size="5" text-anchor="middle">increasing</text>

<!-- C table -->
<text class="ser" x="282" y="429" font-size="16.5" text-anchor="middle">Molecular function</text>
<rect x="183" y="433" width="194" height="11" fill="#c8c8c8"/>
<text class="th" x="204" y="440.7">ID</text><text class="th" x="301" y="440.7">Description</text>
<g>
<rect x="183" y="444.4" width="194" height="10.1" fill="#f0f0f0"/>
<rect x="183" y="455.3" width="194" height="10.1" fill="#e6e6e6"/>
<rect x="183" y="466.2" width="194" height="10.1" fill="#f0f0f0"/>
<rect x="183" y="477.1" width="194" height="10.1" fill="#e6e6e6"/>
<rect x="183" y="488" width="194" height="10.1" fill="#f0f0f0"/>
<rect x="183" y="498.9" width="194" height="10.1" fill="#e6e6e6"/>
<rect x="183" y="509.8" width="194" height="10.1" fill="#f0f0f0"/>
<rect x="183" y="520.7" width="194" height="10.1" fill="#e6e6e6"/>
<rect x="183" y="531.6" width="194" height="10.1" fill="#f0f0f0"/>
<rect x="183" y="542.5" width="194" height="10.1" fill="#e6e6e6"/>
<line x1="225" y1="433" x2="225" y2="553" stroke="#fff" stroke-width="1"/>
</g>
<g class="td" font-size="5.9">
<text x="204" y="451.6">GO:0005198</text><text x="301" y="451.6">structural molecule activity</text>
<text x="204" y="462.5">GO:0030246</text><text x="301" y="462.5">carbohydrate binding</text>
<text x="204" y="473.4">GO:0005179</text><text x="301" y="473.4">hormone activity</text>
<text x="204" y="484.3">GO:0042166</text><text x="301" y="484.3">acetylcholine binding</text>
<text x="204" y="495.2">GO:0005215</text><text x="301" y="495.2">transporter activity</text>
<text x="204" y="506.1">GO:0004252</text><text x="301" y="506.1">serine-type endopeptidase activity</text>
<text x="204" y="517">GO:0004867</text><text x="301" y="517">serine-type endopeptidase inhibitor activity</text>
<text x="204" y="527.9">GO:0030247</text><text x="301" y="527.9">polysaccharide binding</text>
<text x="204" y="538.8">GO:0008236</text><text x="301" y="538.8">serine-type peptidase activity</text>
<text x="204" y="549.7">GO:0004889</text><text x="301" y="549.7">acetylcholine-activated cation-selective channel activity</text>
</g>

<!-- ================= PANEL D ================= -->
<text class="ser" x="616" y="376" font-size="16.5" text-anchor="middle">Enrichment KEGG</text>
<rect x="542" y="382" width="159" height="351" fill="#fff"/>
<g stroke="#f3f3f3" stroke-width=".5">
<line x1="567.3" y1="382" x2="567.3" y2="733"/><line x1="608" y1="382" x2="608" y2="733"/><line x1="648.7" y1="382" x2="648.7" y2="733"/><line x1="689.3" y1="382" x2="689.3" y2="733"/>
</g>
<g stroke="#e8e8e8" stroke-width=".8">
<line x1="547" y1="382" x2="547" y2="733"/><line x1="587.7" y1="382" x2="587.7" y2="733"/><line x1="628.3" y1="382" x2="628.3" y2="733"/><line x1="669" y1="382" x2="669" y2="733"/>
<line x1="542" y1="403.5" x2="701" y2="403.5"/><line x1="542" y1="437.9" x2="701" y2="437.9"/><line x1="542" y1="472.2" x2="701" y2="472.2"/><line x1="542" y1="506.6" x2="701" y2="506.6"/><line x1="542" y1="541" x2="701" y2="541"/><line x1="542" y1="575.4" x2="701" y2="575.4"/><line x1="542" y1="609.7" x2="701" y2="609.7"/><line x1="542" y1="644.1" x2="701" y2="644.1"/><line x1="542" y1="678.5" x2="701" y2="678.5"/><line x1="542" y1="712.8" x2="701" y2="712.8"/>
</g>
<rect x="542" y="382" width="159" height="351" fill="none" stroke="#4d4d4d" stroke-width=".8"/>
<g stroke="#333" stroke-width=".7">
<line x1="538.5" y1="403.5" x2="542" y2="403.5"/><line x1="538.5" y1="437.9" x2="542" y2="437.9"/><line x1="538.5" y1="472.2" x2="542" y2="472.2"/><line x1="538.5" y1="506.6" x2="542" y2="506.6"/><line x1="538.5" y1="541" x2="542" y2="541"/><line x1="538.5" y1="575.4" x2="542" y2="575.4"/><line x1="538.5" y1="609.7" x2="542" y2="609.7"/><line x1="538.5" y1="644.1" x2="542" y2="644.1"/><line x1="538.5" y1="678.5" x2="542" y2="678.5"/><line x1="538.5" y1="712.8" x2="542" y2="712.8"/>
<line x1="547" y1="733" x2="547" y2="736.5"/><line x1="587.7" y1="733" x2="587.7" y2="736.5"/><line x1="628.3" y1="733" x2="628.3" y2="736.5"/><line x1="669" y1="733" x2="669" y2="736.5"/>
</g>
<text class="ax" x="537" y="406.5">Neuroactive ligand-receptor interaction</text>
<text class="ax" x="537" y="440.9">Alcoholism</text>
<text class="ax" x="537" y="475.2">Systemic lupus erythematosus</text>
<text class="ax" x="537" y="509.6">Estrogen signaling pathway</text>
<text class="ax" x="537" y="544">Salivary secretion</text>
<text class="ax" x="537" y="578.4">Pancreatic secretion</text>
<text class="ax" x="537" y="612.7">Bile secretion</text>
<text class="ax" x="537" y="647.1">Taste transduction</text>
<text class="ax" x="537" y="681.5">Maturity onset diabetes of the young</text>
<text class="ax" x="537" y="715.8">Nicotine addiction</text>
<text class="xt" x="547" y="745">0.025</text>
<text class="xt" x="587.7" y="745">0.050</text>
<text class="xt" x="628.3" y="745">0.075</text>
<text class="xt" x="669" y="745">0.100</text>
<text x="621" y="756" font-size="9.5" fill="#333" text-anchor="middle">GeneRatio</text>
<!-- points -->
<circle cx="693" cy="403.5" r="6.4" fill="#f80a0a"/>
<circle cx="613" cy="437.9" r="5.8" fill="#d8175c"/>
<circle cx="608" cy="472.2" r="5.7" fill="#ee082e"/>
<circle cx="592" cy="506.6" r="5" fill="#7418d0"/>
<circle cx="581" cy="541" r="5" fill="#ea0a3c"/>
<circle cx="581" cy="575.4" r="5" fill="#ea0a3c"/>
<circle cx="575" cy="609.7" r="5" fill="#ec0a38"/>
<circle cx="575" cy="644.1" r="5" fill="#e40a44"/>
<circle cx="549" cy="678.5" r="2.7" fill="#dc0f4a"/>
<circle cx="549" cy="712.8" r="2.7" fill="#1515e0"/>
<!-- p.adjust legend -->
<text x="713" y="467" font-size="8" fill="#333">p.adjust</text>
<rect x="713" y="472" width="13" height="65" fill="url(#gP)"/>
<g stroke="#fff" stroke-width=".6">
<line x1="713" y1="489" x2="715.5" y2="489"/><line x1="723.5" y1="489" x2="726" y2="489"/>
<line x1="713" y1="505" x2="715.5" y2="505"/><line x1="723.5" y1="505" x2="726" y2="505"/>
<line x1="713" y1="521" x2="715.5" y2="521"/><line x1="723.5" y1="521" x2="726" y2="521"/>
<line x1="713" y1="536" x2="715.5" y2="536"/><line x1="723.5" y1="536" x2="726" y2="536"/>
</g>
<g font-size="6.6" fill="#444">
<text x="730" y="491.4">0.001</text>
<text x="730" y="507.4">0.002</text>
<text x="730" y="523.4">0.003</text>
<text x="730" y="538.4">0.004</text>
</g>
<!-- Count legend -->
<text x="713" y="563" font-size="8" fill="#333">Count</text>
<g fill="#000">
<circle cx="722" cy="574" r="3.6"/>
<circle cx="722" cy="588" r="4.6"/>
<circle cx="722" cy="602" r="5.3"/>
<circle cx="722" cy="616.5" r="5.8"/>
<circle cx="722" cy="631" r="6.3"/>
<circle cx="722" cy="647" r="6.9"/>
</g>
<g font-size="6.6" fill="#444">
<text x="734" y="576.4">10</text>
<text x="734" y="590.4">15</text>
<text x="734" y="604.4">20</text>
<text x="734" y="618.9">25</text>
<text x="734" y="633.4">30</text>
<text x="734" y="649.4">35</text>
</g>
</svg>
</body></html>
